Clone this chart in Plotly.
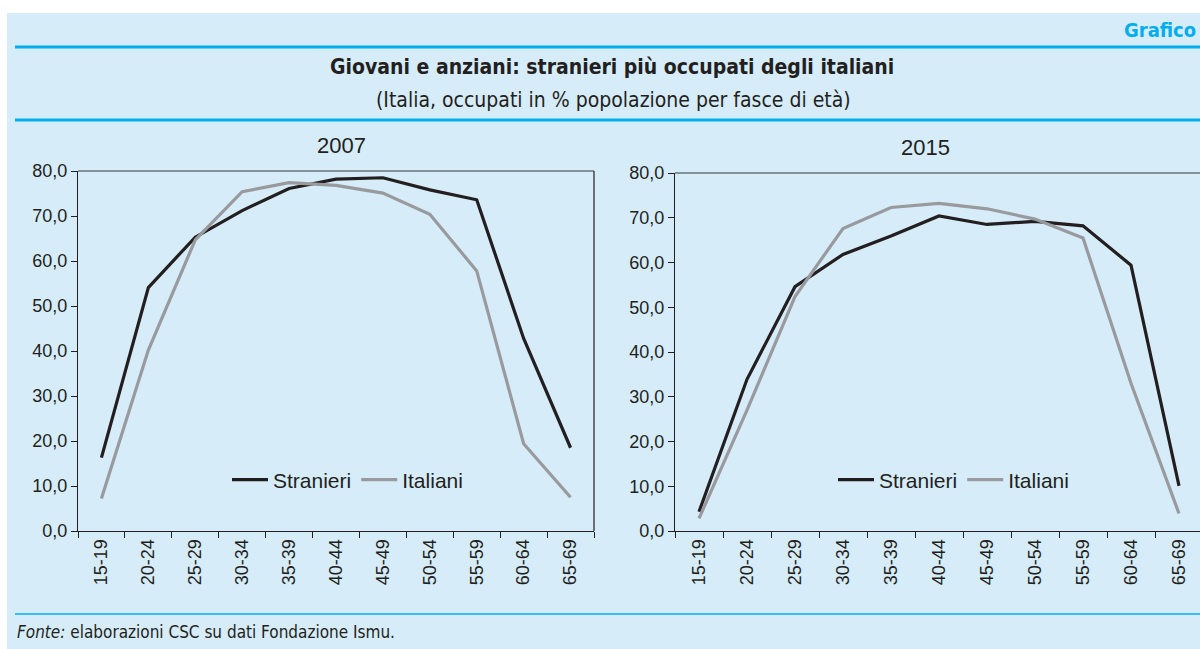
import plotly.graph_objects as go

# ---------------- data ----------------
categories = ["15-19", "20-24", "25-29", "30-34", "35-39", "40-44",
              "45-49", "50-54", "55-59", "60-64", "65-69"]
stranieri_2007 = [16.3, 54.1, 65.3, 71.2, 76.1, 78.2, 78.5, 75.8, 73.6, 42.8, 18.5]
italiani_2007 = [7.2, 40.2, 64.7, 75.4, 77.4, 76.8, 75.1, 70.4, 57.8, 19.4, 7.5]
stranieri_2015 = [4.3, 33.9, 54.6, 61.8, 65.9, 70.4, 68.5, 69.2, 68.2, 59.4, 10.1]
italiani_2015 = [2.8, 27.0, 52.4, 67.6, 72.3, 73.2, 72.0, 69.7, 65.5, 33.0, 3.9]
series_names = ["Stranieri", "Italiani"]
panel_titles = ["2007", "2015"]
y_ticks = [0, 10, 20, 30, 40, 50, 60, 70, 80]

title_text = "Giovani e anziani: stranieri più occupati degli italiani"
subtitle_text = "(Italia, occupati in % popolazione per fasce di età)"
source_text = "<i>Fonte:</i> elaborazioni CSC su dati Fondazione Ismu."
badge_text = "Grafico"

# ---------------- style ----------------
W, H = 1200, 649
BG = "#D6ECF9"
DARK = "#231F20"
GREY = "#999A9D"
CYAN = "#00AEEF"
FRAME_TOP = "#6B7479"
SANS = "Liberation Sans, Arial, Helvetica, sans-serif"
NARROW = "Liberation Sans Narrow, Arial Narrow, DejaVu Sans Condensed, sans-serif"


def px(x):
    return x / W


def py(y):
    return 1 - y / H


fig = go.Figure()

colors = [DARK, GREY]
for i, (ys, name) in enumerate(zip([stranieri_2007, italiani_2007], series_names)):
    fig.add_trace(go.Scatter(x=categories, y=ys, name=name, mode="lines",
                             line=dict(color=colors[i], width=3.2),
                             xaxis="x", yaxis="y", legend="legend"))
for i, (ys, name) in enumerate(zip([stranieri_2015, italiani_2015], series_names)):
    fig.add_trace(go.Scatter(x=categories, y=ys, name=name, mode="lines",
                             line=dict(color=colors[i], width=3.2),
                             xaxis="x2", yaxis="y2", legend="legend2"))

xcommon = dict(type="category", categoryorder="array", categoryarray=categories,
               tickson="boundaries", ticks="outside", ticklen=6, tickwidth=1,
               tickcolor=DARK, showline=True, linecolor=DARK, linewidth=1,
               tickangle=-90, tickfont=dict(family=SANS, size=18, color=DARK),
               showgrid=False, zeroline=False, automargin=False, fixedrange=True)
ycommon = dict(range=[0, 80], tickvals=y_ticks, tickformat=".1f",
               ticks="outside", ticklen=6, tickwidth=1, tickcolor=DARK,
               showline=True, linecolor=DARK, linewidth=1,
               tickfont=dict(family=SANS, size=18, color=DARK),
               showgrid=False, zeroline=False, automargin=False, fixedrange=True)

# right panel is cut by the picture edge: last category centre at 1179px, spacing 48px
right_end = (W - 699) / 48.0

legend_common = dict(orientation="h", xanchor="left", yanchor="middle",
                     bgcolor="rgba(0,0,0,0)", font=dict(family=SANS, size=21, color=DARK),
                     itemwidth=36, tracegroupgap=0)

fig.update_layout(
    width=W, height=H,
    margin=dict(l=0, r=0, t=0, b=0, pad=0),
    paper_bgcolor=BG, plot_bgcolor="rgba(0,0,0,0)",
    separators=",.",
    showlegend=True,
    xaxis=dict(domain=[px(78), px(594)], range=[-0.5, 10.5], anchor="y", **xcommon),
    yaxis=dict(domain=[py(531), py(171)], anchor="x", **ycommon),
    xaxis2=dict(domain=[px(675), 1.0], range=[-0.5, right_end], anchor="y2", **xcommon),
    yaxis2=dict(domain=[py(531), py(173)], anchor="x2", **ycommon),
    legend=dict(x=px(227), y=py(480), **legend_common),
    legend2=dict(x=px(833), y=py(480), **legend_common),
)

shapes = [
    # white strips around the light-blue card
    dict(type="rect", xref="paper", yref="paper", x0=0, x1=1, y0=py(13), y1=1,
         fillcolor="white", line=dict(width=0), layer="below"),
    dict(type="rect", xref="paper", yref="paper", x0=0, x1=px(7), y0=0, y1=1,
         fillcolor="white", line=dict(width=0), layer="below"),
    # cyan rules
    dict(type="line", xref="paper", yref="paper", x0=px(15), x1=1, y0=py(47), y1=py(47),
         line=dict(color=CYAN, width=3)),
    dict(type="line", xref="paper", yref="paper", x0=px(15), x1=1, y0=py(120), y1=py(120),
         line=dict(color=CYAN, width=3)),
    dict(type="line", xref="paper", yref="paper", x0=px(15), x1=1, y0=py(614), y1=py(614),
         line=dict(color=CYAN, width=1.5)),
    # plot frames
    dict(type="line", xref="x domain", yref="y domain", x0=0, x1=1, y0=1, y1=1,
         line=dict(color=FRAME_TOP, width=1.5)),
    dict(type="line", xref="x domain", yref="y domain", x0=1, x1=1, y0=0, y1=1,
         line=dict(color=DARK, width=1.2)),
    dict(type="line", xref="x2 domain", yref="y2 domain", x0=0, x1=1, y0=1, y1=1,
         line=dict(color=FRAME_TOP, width=1.5)),
]

annotations = [
    dict(text=badge_text, x=px(1122), y=py(30), xref="paper", yref="paper",
         xanchor="left", yanchor="middle", showarrow=False,
         font=dict(family=NARROW, size=20, color=CYAN, weight="bold")),
    dict(text="<b>" + title_text + "</b>", x=px(612), y=py(67), xref="paper", yref="paper",
         xanchor="center", yanchor="middle", showarrow=False,
         font=dict(family=NARROW, size=21, color=DARK)),
    dict(text=subtitle_text, x=px(613), y=py(100), xref="paper", yref="paper",
         xanchor="center", yanchor="middle", showarrow=False,
         font=dict(family=NARROW, size=21, color=DARK)),
    dict(text=panel_titles[0], x=px(341), y=py(145), xref="paper", yref="paper",
         xanchor="center", yanchor="middle", showarrow=False,
         font=dict(family=SANS, size=22, color=DARK)),
    dict(text=panel_titles[1], x=px(925), y=py(147), xref="paper", yref="paper",
         xanchor="center", yanchor="middle", showarrow=False,
         font=dict(family=SANS, size=22, color=DARK)),
    dict(text=source_text, x=px(15), y=py(632), xref="paper", yref="paper",
         xanchor="left", yanchor="middle", showarrow=False,
         font=dict(family=NARROW, size=17, color=DARK)),
]

fig.update_layout(shapes=shapes, annotations=annotations)

fig.write_html("out.html", config={"displayModeBar": False},
               post_script="document.body.style.margin='0';document.body.style.overflow='hidden';")
